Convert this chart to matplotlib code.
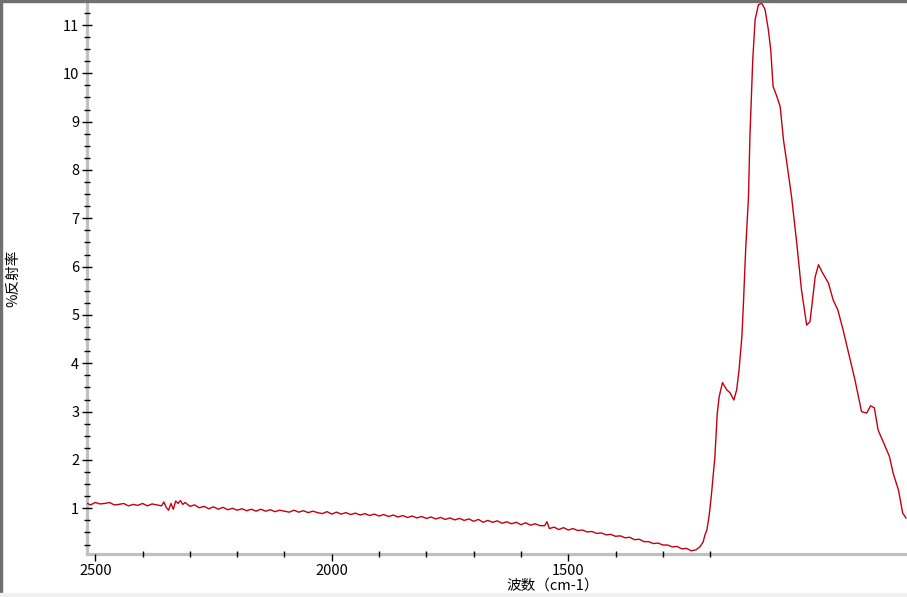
import matplotlib
matplotlib.use("Agg")
import matplotlib.pyplot as plt
from matplotlib.ticker import FixedLocator, MultipleLocator
from matplotlib.patches import Rectangle

plt.rcParams['font.family'] = ['Noto Sans CJK SC', 'DejaVu Sans']

# ---- data ----
wavenumber = [
    2517, 2510, 2500, 2490, 2480, 2470, 2460, 2450, 2440, 2430, 2420, 2410, 2400,
    2390, 2380, 2370, 2360, 2355, 2350, 2345, 2340, 2335, 2330, 2325, 2320, 2315,
    2310, 2300, 2290, 2280, 2270, 2260, 2250, 2240, 2230, 2220, 2210, 2200, 2190,
    2180, 2170, 2160, 2150, 2140, 2130, 2120, 2110, 2100, 2090, 2080, 2070, 2060,
    2050, 2040, 2030, 2020, 2010, 2000, 1990, 1980, 1970, 1960, 1950, 1940, 1930,
    1920, 1910, 1900, 1890, 1880, 1870, 1860, 1850, 1840, 1830, 1820, 1810, 1800,
    1790, 1780, 1770, 1760, 1750, 1740, 1730, 1720, 1710, 1700, 1690, 1680, 1670,
    1660, 1650, 1640, 1630, 1620, 1610, 1600, 1590, 1580, 1570, 1560, 1550, 1545,
    1540, 1530, 1520, 1510, 1500, 1490, 1480, 1470, 1460, 1450, 1440, 1430, 1420,
    1410, 1400, 1390, 1380, 1370, 1360, 1350, 1340, 1330, 1320, 1310, 1300, 1290,
    1280, 1270, 1260, 1250, 1240, 1230, 1222, 1215, 1211, 1207, 1202, 1197, 1190,
    1185, 1181, 1174, 1165, 1158, 1150, 1144, 1139, 1133, 1130, 1125, 1119, 1116,
    1110, 1105, 1098, 1091, 1084, 1077, 1072, 1067, 1059, 1052, 1045, 1038, 1028,
    1017, 1007, 996, 989, 978, 971, 964, 950, 940, 930, 919, 904, 894, 880, 869,
    861, 853, 845, 830, 821, 813, 802, 793, 786,
]
reflectance = [
    1.10, 1.07, 1.12, 1.09, 1.10, 1.12, 1.07, 1.08, 1.10, 1.05, 1.08, 1.06, 1.10,
    1.05, 1.09, 1.07, 1.05, 1.13, 1.02, 0.96, 1.10, 0.98, 1.15, 1.10, 1.16, 1.08,
    1.12, 1.04, 1.07, 1.01, 1.04, 0.99, 1.03, 0.98, 1.02, 0.97, 1.00, 0.96, 0.99,
    0.95, 0.98, 0.94, 0.98, 0.94, 0.97, 0.93, 0.96, 0.94, 0.92, 0.96, 0.92, 0.95,
    0.91, 0.94, 0.91, 0.89, 0.93, 0.88, 0.92, 0.88, 0.91, 0.87, 0.90, 0.86, 0.89,
    0.85, 0.88, 0.84, 0.87, 0.83, 0.86, 0.82, 0.85, 0.81, 0.84, 0.80, 0.83, 0.79,
    0.82, 0.78, 0.81, 0.77, 0.80, 0.76, 0.79, 0.75, 0.78, 0.73, 0.77, 0.71, 0.75,
    0.71, 0.74, 0.69, 0.72, 0.68, 0.71, 0.66, 0.70, 0.65, 0.68, 0.64, 0.64, 0.72,
    0.58, 0.61, 0.56, 0.60, 0.55, 0.58, 0.54, 0.55, 0.51, 0.52, 0.48, 0.49, 0.45,
    0.46, 0.42, 0.43, 0.39, 0.40, 0.35, 0.36, 0.31, 0.31, 0.27, 0.28, 0.24, 0.24,
    0.20, 0.21, 0.16, 0.17, 0.12, 0.14, 0.20, 0.30, 0.45, 0.55, 0.86, 1.32, 2.07,
    2.97, 3.31, 3.60, 3.45, 3.39, 3.24, 3.45, 3.86, 4.55, 5.17, 6.35, 7.45, 8.69,
    10.28, 11.11, 11.42, 11.45, 11.32, 10.90, 10.49, 9.73, 9.52, 9.31, 8.62, 8.15, 7.45,
    6.49, 5.52, 4.79, 4.86, 5.79, 6.04, 5.90, 5.66, 5.31, 5.10, 4.69, 4.07, 3.66, 3.00, 2.97,
    3.12, 3.08, 2.62, 2.28, 2.07, 1.72, 1.38, 0.90, 0.80,
]

x_major = [2500, 2000, 1500]
x_minor = [2400, 2300, 2200, 2100, 1900, 1800, 1700, 1600, 1400, 1300, 1200]
y_major = [1, 2, 3, 4, 5, 6, 7, 8, 9, 10, 11]

xlabel = "波数（cm-1）"
ylabel = "%反射率"

# ---- figure ----
W, H = 907, 597
fig = plt.figure(figsize=(W / 100, H / 100), dpi=100)
ax = fig.add_axes([87 / W, (H - 554) / H, (W - 87) / W, (554 - 2) / H])

ax.plot(wavenumber, reflectance, color="#c40010", linewidth=1.0)

ax.set_xlim(2517.5, 783.9)
ax.set_ylim(0.054, 11.476)

for s in ["top", "right"]:
    ax.spines[s].set_visible(False)
for s in ["left", "bottom"]:
    ax.spines[s].set_color("#c0c0c0")
    ax.spines[s].set_linewidth(2.3)
    ax.spines[s].set_zorder(0.5)

ax.xaxis.set_major_locator(FixedLocator(x_major))
ax.xaxis.set_minor_locator(FixedLocator(x_minor))
ax.yaxis.set_major_locator(FixedLocator(y_major))
ax.yaxis.set_minor_locator(MultipleLocator(0.25))

ax.tick_params(axis="y", which="major", direction="inout", length=7, width=1,
               color="black", pad=2, labelsize=10.5)
ax.tick_params(axis="y", which="minor", direction="inout", length=4.5, width=1,
               color="black")
ax.tick_params(axis="x", which="major", direction="out", length=5, width=1,
               color="black", pad=2, labelsize=10.5)
ax.tick_params(axis="x", which="minor", direction="inout", length=4.5, width=1,
               color="black")

fig.text(553 / W, 1 - 586 / H, xlabel, ha="center", va="center", fontsize=10.5)
fig.text(13 / W, 1 - 278 / H, ylabel, ha="center", va="center", rotation=90,
         fontsize=10.5)

# window frame
fig.patches.append(Rectangle((0, 0), 2 / W, 1, transform=fig.transFigure,
                             color="#707070", zorder=5))
fig.patches.append(Rectangle((0, 1 - 2 / H), 1, 2 / H, transform=fig.transFigure,
                             color="#707070", zorder=5))
fig.patches.append(Rectangle((0, 0), 1, 4 / H, transform=fig.transFigure,
                             color="#f0f0f0", zorder=5))

fig.savefig("out.png", dpi=100)
